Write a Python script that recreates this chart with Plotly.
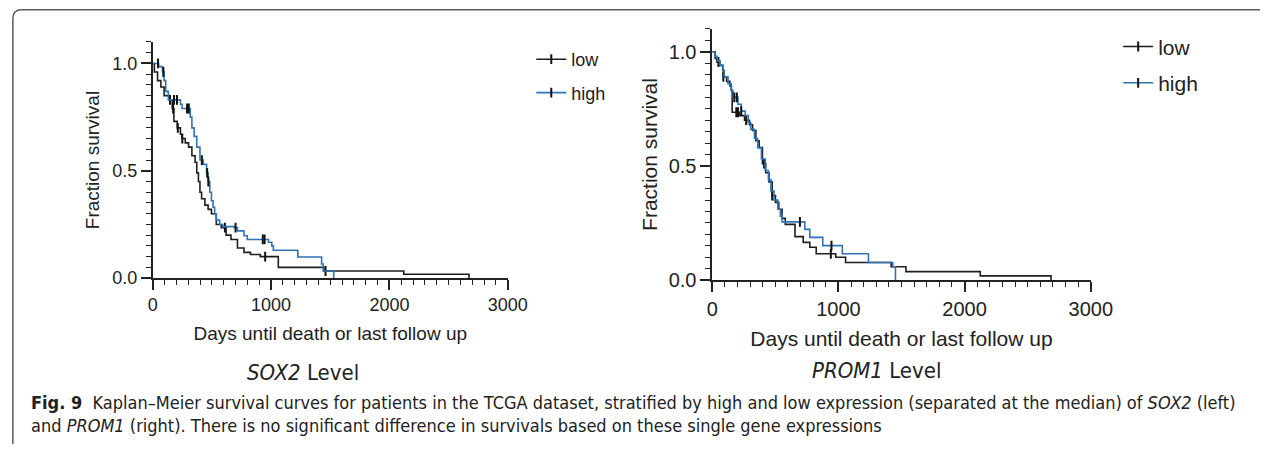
import plotly.graph_objects as go

W, H = 1282, 455

# ---------------- data ----------------
# SOX2 panel, "low" group: step times (days) and survival fractions
sox2_low_t = [0, 14, 41, 69, 96, 138, 165, 179, 207, 234, 248, 275, 303, 331, 358, 372, 386,
              399, 413, 441, 468, 496, 537, 579, 620, 661, 716, 771, 826, 909, 1061, 1446,
              2121, 2672]
sox2_low_s = [1.0, 0.96, 0.92, 0.89, 0.85, 0.83, 0.79, 0.73, 0.70, 0.67, 0.65, 0.63, 0.61,
              0.57, 0.54, 0.49, 0.45, 0.40, 0.37, 0.34, 0.32, 0.30, 0.25, 0.235, 0.20, 0.18,
              0.14, 0.12, 0.11, 0.10, 0.05, 0.033, 0.018, 0.0]
sox2_low_cens = [146, 172, 212, 250, 610, 950, 1460]

# SOX2 panel, "high" group
sox2_high_t = [0, 50, 83, 96, 110, 132, 234, 248, 317, 331, 350, 372, 399, 427, 455, 468,
               482, 496, 510, 523, 537, 565, 592, 689, 716, 771, 799, 978, 1006, 1019, 1226,
               1427, 1440, 1529]
sox2_high_s = [1.0, 0.985, 0.96, 0.92, 0.87, 0.83, 0.81, 0.79, 0.75, 0.70, 0.66, 0.61, 0.55,
               0.53, 0.49, 0.45, 0.40, 0.36, 0.33, 0.30, 0.27, 0.25, 0.24, 0.235, 0.22, 0.197,
               0.18, 0.167, 0.15, 0.13, 0.098, 0.066, 0.033, 0.0]
sox2_high_cens = [45, 90, 180, 205, 290, 305, 415, 460, 470, 700, 930, 945]

# PROM1 panel, "low" group
prom1_low_t = [0, 23, 36, 62, 83, 88, 114, 140, 152, 158, 217, 256, 295, 320, 346, 372, 398,
               424, 450, 475, 501, 527, 553, 579, 656, 721, 773, 824, 979, 1057, 1418, 1535,
               2124, 2685]
prom1_low_s = [1.0, 0.97, 0.955, 0.94, 0.92, 0.89, 0.87, 0.85, 0.83, 0.735, 0.72, 0.70, 0.68,
               0.655, 0.61, 0.58, 0.51, 0.47, 0.43, 0.37, 0.34, 0.31, 0.27, 0.244, 0.19, 0.165,
               0.144, 0.115, 0.10, 0.077, 0.058, 0.037, 0.0185, 0.0]
prom1_low_cens = [49, 88, 191, 204, 269, 411, 475, 940]

# PROM1 panel, "high" group
prom1_high_t = [0, 20, 40, 62, 85, 95, 125, 150, 165, 204, 230, 262, 285, 305, 335, 360, 390,
                420, 445, 465, 490, 520, 540, 553, 734, 773, 876, 1031, 1238, 1431, 1452]
prom1_high_s = [1.0, 0.98, 0.96, 0.94, 0.92, 0.89, 0.86, 0.83, 0.80, 0.77, 0.74, 0.72, 0.69,
                0.66, 0.62, 0.58, 0.53, 0.48, 0.44, 0.39, 0.35, 0.31, 0.28, 0.255, 0.222,
                0.187, 0.151, 0.115, 0.077, 0.058, 0.0]
prom1_high_cens = [175, 195, 230, 695, 945]

groups = ["low", "high"]
panel_titles = ["<i>SOX2</i> Level", "<i>PROM1</i> Level"]
x_tickvals = [0, 1000, 2000, 3000]
x_ticktext = ["0", "1000", "2000", "3000"]
y_tickvals = [0.0, 0.5, 1.0]
y_ticktext = ["0.0", "0.5", "1.0"]
x_title = "Days until death or last follow up"
y_title = "Fraction survival"
caption_line1 = ("<b>Fig. 9</b>  Kaplan–Meier survival curves for patients in the TCGA dataset, "
                 "stratified by high and low expression (separated at the median) of <i>SOX2</i> (left)")
caption_line2 = ("and <i>PROM1</i> (right). There is no significant difference in survivals based "
                 "on these single gene expressions")

# ---------------- styling ----------------
C_LOW = "#1e1e1e"
C_HIGH = "#2f74b5"
C_AXIS = "#222222"
FONT = "Liberation Sans, Arial, sans-serif"
CAP_FONT = "DejaVu Sans Condensed, Liberation Sans Narrow, sans-serif"


def step_at(ts, ss, t):
    v = ss[0]
    for ti, si in zip(ts, ss):
        if ti <= t:
            v = si
        else:
            break
    return v


def px_x(p):
    return p / W


def px_y(p):
    return 1 - p / H


fig = go.Figure()

panels = [
    dict(xa="x", ya="y", leg="legend",
         series=[(sox2_low_t, sox2_low_s, sox2_low_cens, C_LOW),
                 (sox2_high_t, sox2_high_s, sox2_high_cens, C_HIGH)]),
    dict(xa="x2", ya="y2", leg="legend2",
         series=[(prom1_low_t, prom1_low_s, prom1_low_cens, C_LOW),
                 (prom1_high_t, prom1_high_s, prom1_high_cens, C_HIGH)]),
]

for pi, pan in enumerate(panels):
    for gi, (ts, ss, cens, col) in enumerate(pan["series"]):
        fig.add_trace(go.Scatter(
            x=ts, y=ss, mode="lines", line=dict(color=col, width=1.6, shape="hv"),
            xaxis=pan["xa"], yaxis=pan["ya"], showlegend=False, hoverinfo="skip"))
        fig.add_trace(go.Scatter(
            x=cens, y=[step_at(ts, ss, c) for c in cens], mode="markers",
            marker=dict(symbol="line-ns", size=7, line=dict(color="#111111", width=2)),
            xaxis=pan["xa"], yaxis=pan["ya"], showlegend=False, hoverinfo="skip"))
    for gi, (ts, ss, cens, col) in enumerate(pan["series"]):
        fig.add_trace(go.Scatter(
            x=[None], y=[None], mode="lines+markers", name=groups[gi],
            line=dict(color=col, width=1.6),
            marker=dict(symbol="line-ns", size=7, line=dict(color="#111111", width=2)),
            xaxis=pan["xa"], yaxis=pan["ya"], legend=pan["leg"], legendgroup=f"{pi}{gi}"))


def xaxis_style(dom, anchor, fs, tfs):
    return dict(domain=dom, anchor=anchor, range=[0, 3000], tickmode="array",
                tickvals=x_tickvals, ticktext=x_ticktext, showline=True, linecolor=C_AXIS,
                linewidth=1.5, ticks="outside", ticklen=10, tickwidth=1.5, tickcolor=C_AXIS,
                minor=dict(ticks="outside", ticklen=5, tickwidth=1.2, tickcolor=C_AXIS,
                           tickmode="linear", tick0=0, dtick=100),
                showgrid=False, zeroline=False,
                tickfont=dict(family=FONT, size=fs, color="#222"),
                title=dict(text=x_title, font=dict(family=FONT, size=tfs, color="#222"),
                           standoff=12))


def yaxis_style(dom, anchor, fs, tfs, so):
    return dict(domain=dom, anchor=anchor, range=[0, 1.1], tickmode="array",
                tickvals=y_tickvals, ticktext=y_ticktext, showline=True, linecolor=C_AXIS,
                linewidth=1.5, ticks="outside", ticklen=10, tickwidth=1.5, tickcolor=C_AXIS,
                minor=dict(ticks="outside", ticklen=5, tickwidth=1.2, tickcolor=C_AXIS,
                           tickmode="linear", tick0=0, dtick=0.05),
                showgrid=False, zeroline=False,
                tickfont=dict(family=FONT, size=fs, color="#222"),
                title=dict(text=y_title, font=dict(family=FONT, size=tfs, color="#222"),
                           standoff=so))


fig.update_layout(
    width=W, height=H, margin=dict(l=0, r=0, t=0, b=0),
    paper_bgcolor="white", plot_bgcolor="white",
    xaxis=xaxis_style([px_x(150), px_x(513)], "y", 18, 19),
    yaxis=yaxis_style([px_y(285), px_y(43)], "x", 18, 19, 8),
    xaxis2=xaxis_style([px_x(722), px_x(1109)], "y2", 20, 21),
    yaxis2=yaxis_style([px_y(287), px_y(29.6)], "x2", 20, 21, 5),
    legend=dict(x=px_x(537), y=px_y(42), xanchor="left", yanchor="top",
                font=dict(family=FONT, size=18, color="#222"), tracegroupgap=7,
                bgcolor="rgba(0,0,0,0)", itemwidth=30),
    legend2=dict(x=px_x(1137), y=px_y(27), xanchor="left", yanchor="top",
                 font=dict(family=FONT, size=21, color="#222"), tracegroupgap=6,
                 bgcolor="rgba(0,0,0,0)", itemwidth=30),
    showlegend=True,
)

annotations = [
    dict(text=panel_titles[0], x=px_x(304), y=px_y(382), xref="paper", yref="paper",
         xanchor="center", yanchor="middle",
         showarrow=False, font=dict(family=CAP_FONT, size=22, color="#222")),
    dict(text=panel_titles[1], x=px_x(890), y=px_y(380), xref="paper", yref="paper",
         xanchor="center", yanchor="middle",
         showarrow=False, font=dict(family=CAP_FONT, size=22, color="#222")),
    dict(text=caption_line1, x=px_x(24), y=px_y(412), xref="paper", yref="paper",
         xanchor="left", yanchor="middle",
         showarrow=False, font=dict(family=CAP_FONT, size=18, color="#222")),
    dict(text=caption_line2, x=px_x(24), y=px_y(436), xref="paper", yref="paper",
         xanchor="left", yanchor="middle",
         showarrow=False, font=dict(family=CAP_FONT, size=18, color="#222")),
]
fig.update_layout(annotations=annotations)

# rounded frame around the figure (top and left edges visible)
frame_path = (f"M {px_x(1282)} {px_y(10)} L {px_x(16)} {px_y(10)} "
              f"Q {px_x(7)} {px_y(10)} {px_x(7)} {px_y(19)} L {px_x(7)} {px_y(455)}")
fig.update_layout(shapes=[dict(type="path", path=frame_path, xref="paper", yref="paper",
                               line=dict(color="#5a5a5a", width=1.5))])

fig.write_html("out.html")
